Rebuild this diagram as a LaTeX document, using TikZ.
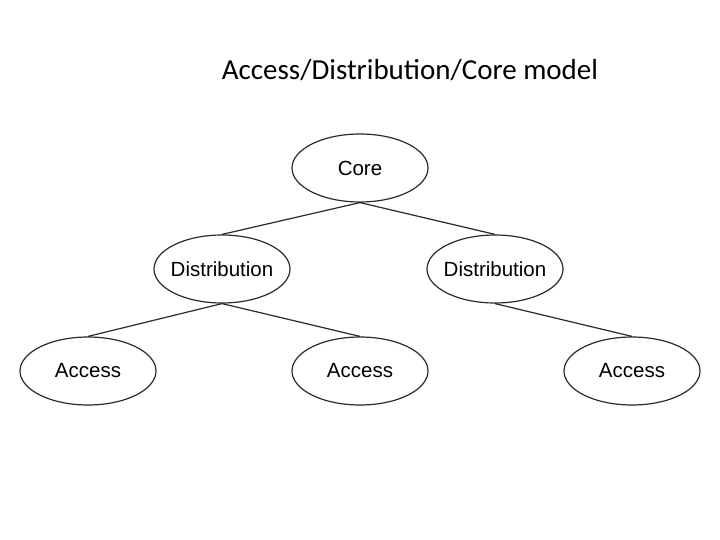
\documentclass[tikz,border=0pt]{standalone}
\usepackage{fontspec}
\setmainfont{Liberation Sans}
\newfontfamily\titlefont{Carlito}
\usetikzlibrary{shapes.geometric}
\definecolor{cLine}{HTML}{2A2A2A}

\begin{document}
\begin{tikzpicture}[
  x=1pt, y=-1pt,
  every node/.style={font=\fontsize{20.5}{24}\selectfont},
  blob/.style={ellipse, draw=cLine, line width=1.2pt, minimum width=136pt,
               minimum height=68pt, inner xsep=-14pt, inner ysep=0pt},
  link/.style={draw=cLine, line width=1.2pt},
]
\useasboundingbox (0,0) rectangle (720,540);

% Title
\node[font=\titlefont\fontsize{29}{34}\selectfont] (title) at (410,70) {Access/Distribution/Core model};

% Nodes
\node[blob] (core) at (360,168) {Core};
\node[blob] (distL) at (222,269) {Distribution};
\node[blob] (distR) at (495,269) {Distribution};
\node[blob] (accL) at (88,371) {Access};
\node[blob] (accM) at (360,371) {Access};
\node[blob] (accR) at (632,371) {Access};

% Links
\draw[link] (core.south) -- (distL.north);
\draw[link] (core.south) -- (distR.north);
\draw[link] (distL.south) -- (accL.north);
\draw[link] (distL.south) -- (accM.north);
\draw[link] (distR.south) -- (accR.north);

\end{tikzpicture}
\end{document}
